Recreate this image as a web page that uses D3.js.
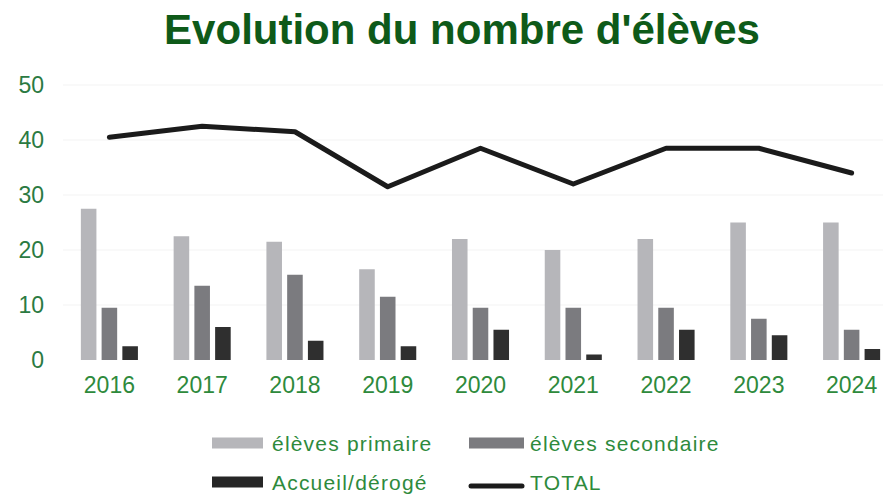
<!DOCTYPE html>
<html>
<head>
<meta charset="utf-8">
<script src="https://cdn.jsdelivr.net/npm/d3@7"></script>
<style>
  body { margin: 0; background: #fff; }
  text { font-family: "Liberation Sans", Arial, sans-serif; }
</style>
</head>
<body>
<svg id="chart" width="883" height="495"></svg>
<script>
let years = ["2016", "2017", "2018", "2019", "2020", "2021", "2022", "2023", "2024"];
let primaire = [27.5, 22.5, 21.5, 16.5, 22, 20, 22, 25, 25];
let secondaire = [9.5, 13.5, 15.5, 11.5, 9.5, 9.5, 9.5, 7.5, 5.5];
let accueil = [2.5, 6, 3.5, 2.5, 5.5, 1, 5.5, 4.5, 2];
let total = [40.5, 42.5, 41.5, 31.5, 38.5, 32, 38.5, 38.5, 34];
let yTicks = [0, 10, 20, 30, 40, 50];
let seriesNames = ["élèves primaire", "élèves secondaire", "Accueil/dérogé"];
let seriesColors = ["#b6b6ba", "#7b7b7f", "#2f2f2f"];

let svg = d3.select("#chart");

let xS = d3.scaleBand().domain(years).range([63, 898]).paddingInner(0.385).paddingOuter(0.1925);
let subS = d3.scaleBand().domain([0, 1, 2]).range([0, xS.bandwidth()]).paddingInner(0.25);
let yS = d3.scaleLinear().domain([0, 50]).range([360, 85]);

// title
svg.append("text").attr("x", 462).attr("y", 44).attr("text-anchor", "middle")
    .attr("font-size", 42).attr("font-weight", "bold").attr("fill", "#0e5a19")
    .text("Evolution du nombre d'élèves");

// faint gridlines
svg.append("g").selectAll("line").data(yTicks.slice(1)).enter().append("line")
    .attr("x1", 63).attr("x2", 883)
    .attr("y1", d => yS(d)).attr("y2", d => yS(d))
    .attr("stroke", "#f3f3f3").attr("stroke-width", 1);

// y axis
let yAx = svg.append("g").attr("transform", "translate(44,0)")
    .call(d3.axisLeft(yS).tickValues(yTicks).tickSize(0).tickPadding(0));
yAx.select(".domain").remove();
yAx.selectAll("text").attr("font-size", 23).attr("fill", "#2b7a42")
    .style("font-family", "'Liberation Sans', Arial, sans-serif");

// x axis
let xAx = svg.append("g").attr("transform", "translate(0,372)")
    .call(d3.axisBottom(xS).tickSize(0).tickPadding(0));
xAx.select(".domain").remove();
xAx.selectAll("text").attr("font-size", 23).attr("fill", "#2e8a3c").attr("dy", "0.92em")
    .style("font-family", "'Liberation Sans', Arial, sans-serif");

// bars
let allSeries = [primaire, secondaire, accueil];
let groups = svg.append("g").selectAll("g").data(years).enter().append("g")
    .attr("transform", d => `translate(${xS(d)},0)`);
groups.selectAll("rect")
    .data((d, i) => allSeries.map((s, k) => ({ k: k, v: s[i] })))
    .enter().append("rect")
    .attr("x", d => subS(d.k))
    .attr("width", subS.bandwidth())
    .attr("y", d => yS(d.v))
    .attr("height", d => yS(0) - yS(d.v))
    .attr("fill", d => seriesColors[d.k]);

// total line
let line = d3.line()
    .x((d, i) => xS(years[i]) + xS.bandwidth() / 2)
    .y(d => yS(d));
svg.append("path").datum(total).attr("d", line)
    .attr("fill", "none").attr("stroke", "#1b1b1b").attr("stroke-width", 5)
    .attr("stroke-linejoin", "round").attr("stroke-linecap", "round");

// legend
let legendItems = [
    { name: seriesNames[0], color: seriesColors[0], type: "rect", x: 212, y: 443, w: 51, tx: 60 },
    { name: seriesNames[1], color: seriesColors[1], type: "rect", x: 469, y: 443, w: 55, tx: 61 },
    { name: seriesNames[2], color: "#262626", type: "rect", x: 212, y: 482, w: 51, tx: 60 },
    { name: "TOTAL", color: "#1b1b1b", type: "line", x: 469, y: 482, w: 55, tx: 61 }
];
let lg = svg.append("g").selectAll("g").data(legendItems).enter().append("g")
    .attr("transform", d => `translate(${d.x},${d.y})`);
lg.filter(d => d.type === "rect").append("rect")
    .attr("x", 0).attr("y", -5.5).attr("width", d => d.w).attr("height", 11)
    .attr("fill", d => d.color);
lg.filter(d => d.type === "line").append("line")
    .attr("x1", 2).attr("x2", d => d.w - 2).attr("y1", 4).attr("y2", 4)
    .attr("stroke", d => d.color).attr("stroke-width", 5).attr("stroke-linecap", "round");
lg.append("text").attr("x", d => d.tx).attr("y", 0).attr("dy", "0.36em")
    .attr("font-size", 21).attr("letter-spacing", 1.2).attr("fill", "#2e8a3c")
    .text(d => d.name);
</script>
</body>
</html>
